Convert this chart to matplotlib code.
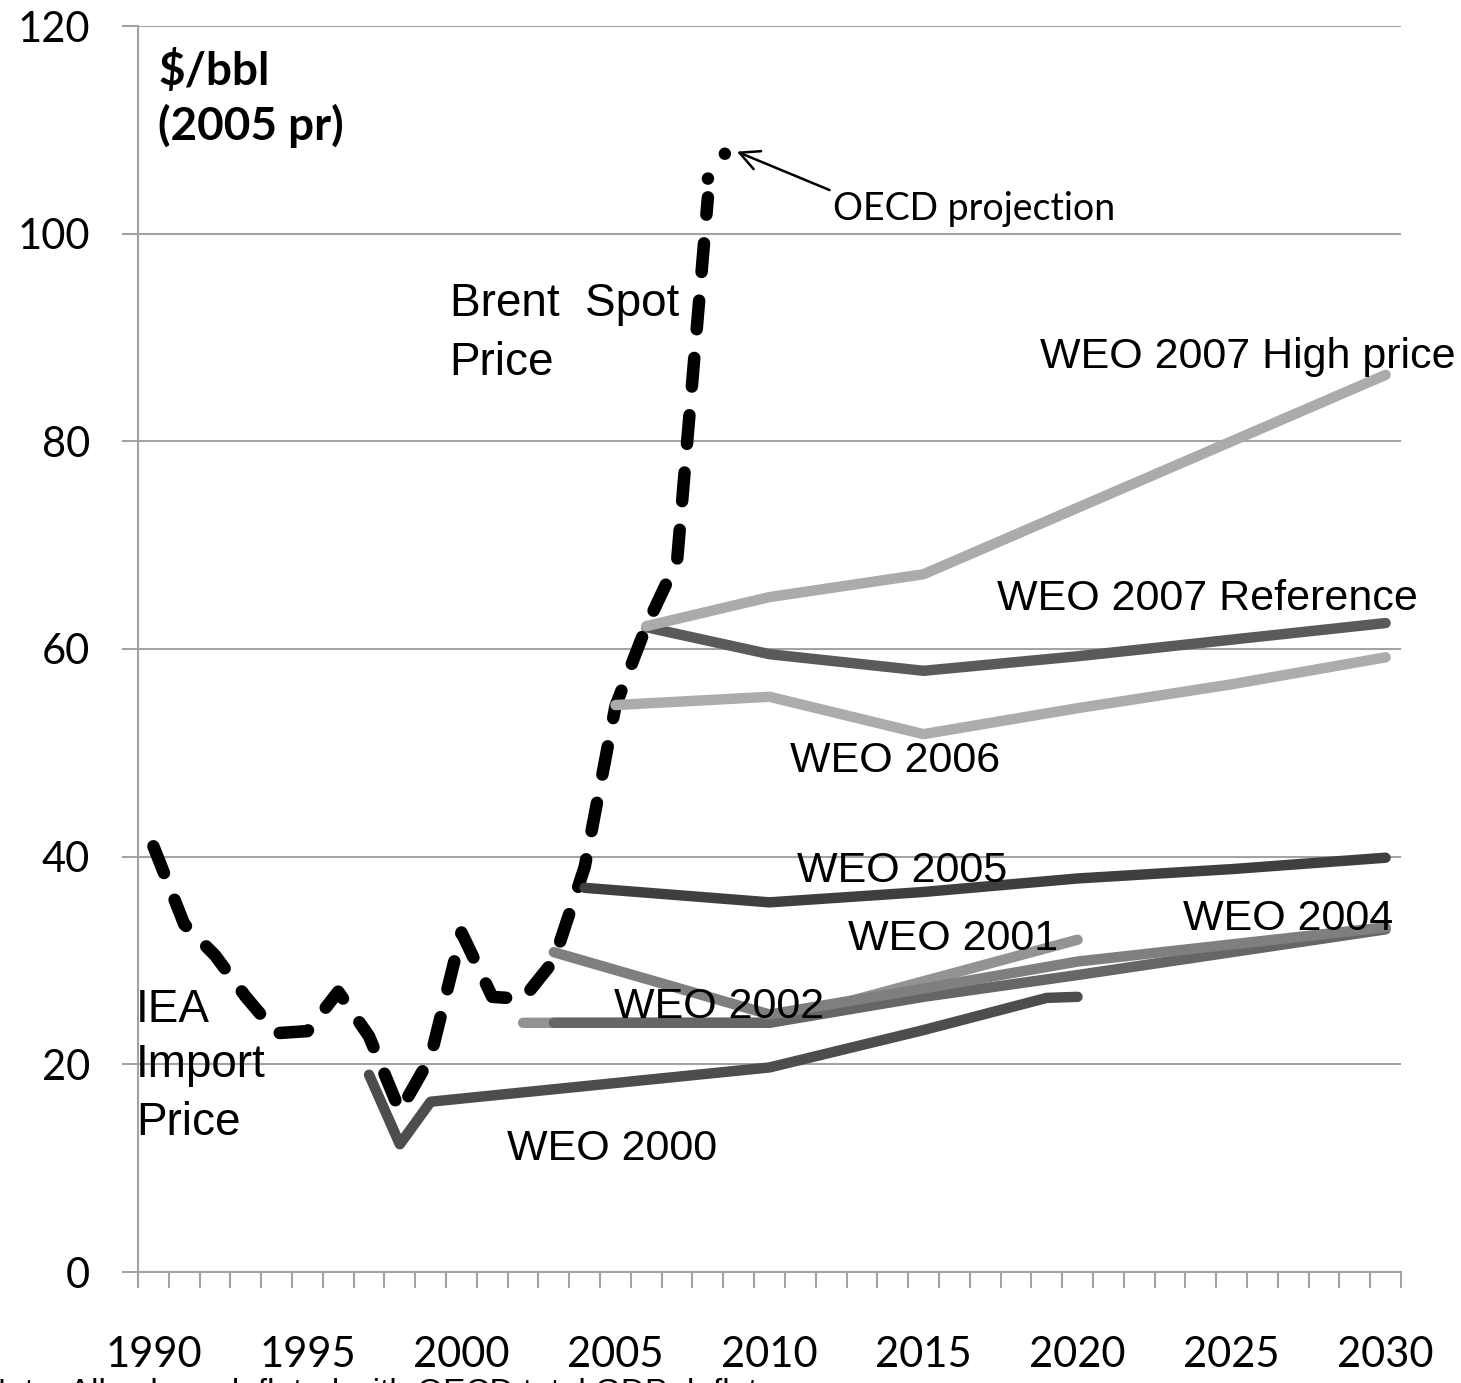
import matplotlib
matplotlib.use("Agg")
import matplotlib.pyplot as plt
import numpy as np

# ---------------- data ----------------
brent_years = [1990, 1991, 1992, 1993, 1994, 1995, 1996, 1997, 1998, 1999,
               2000, 2001, 2002, 2003, 2004, 2005, 2006, 2007, 2008]
brent_values = [41.0, 33.5, 30.5, 26.5, 23.0, 23.2, 27.0, 22.7, 15.5, 20.7,
                32.7, 26.5, 26.3, 30.0, 39.0, 54.5, 62.2, 68.5, 103.5]

oecd_years = [2008.0, 2008.55]
oecd_values = [105.3, 107.7]

weo2007_high_years = [2006, 2010, 2015, 2020, 2025, 2030]
weo2007_high_values = [62.2, 65.0, 67.2, 73.6, 80.0, 86.4]

weo2007_ref_years = [2006, 2010, 2015, 2020, 2025, 2030]
weo2007_ref_values = [62.1, 59.5, 57.9, 59.3, 60.9, 62.5]

weo2006_years = [2005, 2010, 2015, 2020, 2025, 2030]
weo2006_values = [54.6, 55.4, 51.8, 54.3, 56.6, 59.2]

weo2005_years = [2004, 2010, 2015, 2020, 2025, 2030]
weo2005_values = [37.0, 35.6, 36.6, 37.9, 38.8, 39.9]

weo2001_years = [2002, 2010, 2015, 2020]
weo2001_values = [24.0, 24.0, 28.0, 32.0]

weo2004_years = [2003, 2010, 2015, 2020, 2030]
weo2004_values = [24.0, 24.0, 26.5, 28.6, 33.0]

weo2002_years = [2003, 2010, 2015, 2020, 2030]
weo2002_values = [30.8, 24.8, 27.3, 29.9, 33.2]

weo2000_years = [1997, 1998, 1999, 2010, 2015, 2019, 2020]
weo2000_values = [19.0, 12.3, 16.4, 19.7, 23.3, 26.4, 26.5]

xtick_years = [1990, 1995, 2000, 2005, 2010, 2015, 2020, 2025, 2030]
ytick_values = [0, 20, 40, 60, 80, 100, 120]

# ---------------- figure ----------------
W, H = 1461, 1383
fig = plt.figure(figsize=(W / 100, H / 100), dpi=100)
ax = fig.add_axes([138 / W, 1 - 1272 / H, (1401 - 138) / W, (1272 - 26) / H])
ax.set_xlim(1989.5, 2030.5)
ax.set_ylim(0, 120)

grid_c = "#a3a3a3"
ax.yaxis.grid(True, color=grid_c, lw=1.5, zorder=0)
ax.set_axisbelow(True)
for s in ["top", "right"]:
    ax.spines[s].set_visible(False)
for s in ["left", "bottom"]:
    ax.spines[s].set_color(grid_c)
    ax.spines[s].set_linewidth(1.5)

tick_font = dict(family="Lato", size=30)
ax.set_yticks(ytick_values)
ax.set_yticklabels([str(v) for v in ytick_values], **tick_font)
ax.tick_params(axis="y", length=11.5, width=1.5, color=grid_c, pad=23)

ax.set_xticks(xtick_years)
ax.set_xticklabels([str(v) for v in xtick_years], **tick_font)
ax.set_xticks(np.arange(1989.5, 2031.0, 1.0), minor=True)
ax.tick_params(axis="x", which="major", length=0, pad=46)
ax.tick_params(axis="x", which="minor", length=11.5, width=1.5, color=grid_c)

# Brent / IEA import price (dashed)
ax.plot(brent_years, brent_values, color="black", lw=9, dashes=(2.3, 2.3),
        dash_capstyle="round", solid_capstyle="round", zorder=2)
ax.plot(oecd_years, oecd_values, color="black", lw=9, dashes=(0.01, 2.4),
        dash_capstyle="round", zorder=2)

# WEO projections
lw = 7.5
series = [
    (weo2000_years, weo2000_values, "#4d4d4d"),
    (weo2001_years, weo2001_values, "#939393"),
    (weo2004_years, weo2004_values, "#666666"),
    (weo2002_years, weo2002_values, "#7f7f7f"),
    (weo2005_years, weo2005_values, "#3f3f3f"),
    (weo2006_years, weo2006_values, "#acacac"),
    (weo2007_ref_years, weo2007_ref_values, "#5a5a5a"),
    (weo2007_high_years, weo2007_high_values, "#ababab"),
]
for xs, ys, c in series:
    ax.plot(xs, ys, color=c, lw=lw, solid_capstyle="round",
            solid_joinstyle="round", zorder=3)

# ---------------- labels ----------------
arial = "Liberation Sans"
lab = dict(family=arial, size=31, color="black", zorder=5,
           va="baseline", ha="left")
ax.text(2018.78, 87.1, "WEO 2007 High price", **lab)
ax.text(2017.38, 63.8, "WEO 2007 Reference", **lab)
ax.text(2010.66, 48.2, "WEO 2006", **lab)
ax.text(2010.89, 37.6, "WEO 2005", **lab)
ax.text(2012.54, 31.0, "WEO 2001", **lab)
ax.text(2023.42, 32.9, "WEO 2004", **lab)
ax.text(2004.95, 24.5, "WEO 2002", **lab)
ax.text(2001.47, 10.8, "WEO 2000", **lab)

big = dict(family=arial, size=33, color="black", zorder=5,
           va="baseline", ha="left")
ax.text(1999.62, 92.1, "Brent  Spot", **big)
ax.text(1999.62, 86.4, "Price", **big)
ax.text(1989.43, 24.1, "IEA", **big)
ax.text(1989.43, 18.8, "Import", **big)
ax.text(1989.43, 13.2, "Price", **big)

unit = dict(family="Lato", weight="bold", size=33, zorder=5,
            va="baseline", ha="left")
ax.text(1990.15, 114.35, "$/bbl", **unit)
ax.text(1990.15, 109.06, "(2005 pr)", **unit)

ax.text(2012.05, 101.3, "OECD projection", va="baseline", ha="left",
        family="Lato", size=27, zorder=5)
ax.annotate("", xy=(2008.94, 107.9), xytext=(2011.95, 104.2),
            arrowprops=dict(arrowstyle="->", lw=1.8, color="black",
                            mutation_scale=35, shrinkA=0, shrinkB=0),
            zorder=5)

fig.text(-18 / W, 1 - 1378 / H,
         "Note: All values deflated with OECD total GDP deflator",
         va="top", ha="left", family=arial, size=24)

fig.savefig("out.png", dpi=100)
